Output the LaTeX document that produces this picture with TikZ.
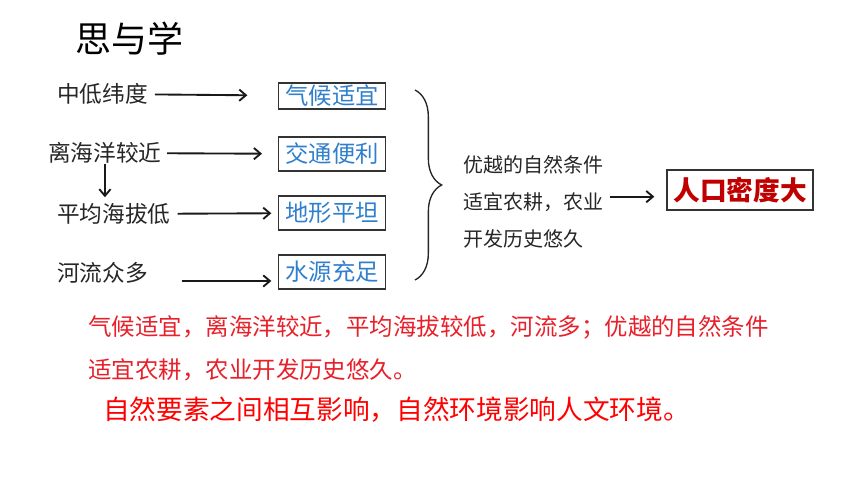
\documentclass[tikz,border=0pt]{standalone}
\usepackage{fontspec}
\newfontfamily\cjk{Noto Sans CJK SC}
\usetikzlibrary{arrows.meta}
\usetikzlibrary{decorations.pathreplacing}
\definecolor{cause-blue}{HTML}{2F7FCC}
\definecolor{result-red}{HTML}{C00000}
\definecolor{note-red}{HTML}{E8202A}
\colorlet{factor}{black!85}
\tikzset{
  factor label/.style={inner sep=0pt, anchor=west, text=factor, font=\cjk\fontsize{17}{20}\selectfont},
  cause box/.style={draw=black!80, line width=1pt, text=cause-blue, inner sep=0pt,
    minimum width=80pt, minimum height=25.5pt, font=\cjk\fontsize{17.5}{20}\selectfont},
  cause path/.style={line width=1.4pt, -{Straight Barb[length=5pt, width=8.5pt]}, black!90},
  note line/.style={inner sep=0pt, anchor=west, font=\cjk\fontsize{#1}{#1}\selectfont},
}

\begin{document}
\begin{tikzpicture}[x=0.75pt, y=-0.75pt]
\useasboundingbox[fill=white] (0,0) rectangle (860,484);
\node[inner sep=0pt, anchor=west, font=\cjk\fontsize{27}{30}\selectfont] at (75,39) (title) {思与学};
% causes and the natural conditions they give
\node[cause box, minimum height=19.5pt] at (332,96) (climate) {气候适宜};
\node[cause box] at (332,154) (traffic) {交通便利};
\node[cause box] at (332,213) (terrain) {地形平坦};
\node[cause box] at (332,272) (water) {水源充足};
\node[factor label] at (57,94) (latitude) {中低纬度}
  edge [cause path, shorten <=5pt, shorten >=23pt] (climate);
\node[factor label] at (48,153) (coast) {离海洋较近}
  edge [cause path, shorten <=4pt, shorten >=12pt] (traffic);
\node[factor label] at (57,214) (altitude) {平均海拔低}
  edge [cause path, shorten <=5pt, shorten >=5pt] (terrain);
\node[factor label] at (57,273) (rivers) {河流众多};
\draw[cause path, shorten >=4.5pt] (coast.south) -- (coast.south |- altitude.north);
\draw[cause path, shorten <=25pt, shorten >=5pt] ([yshift=-6pt]rivers.east) -- ([yshift=-6pt]rivers.east -| water.west);
% brace over the four conditions
\coordinate (brace top) at (415,90);
\coordinate (brace bottom) at (415,280);
\draw[line width=1pt, black!85, decorate, decoration={brace, amplitude=20pt, aspect=0.5}] (brace top) -- (brace bottom);
\node[inner sep=2pt, anchor=west, align=left, text=factor, font=\cjk\fontsize{15}{27.75}\selectfont] at (461,202) (advantage) {优越的自然条件\\适宜农耕，农业\\开发历史悠久};
\node[draw=black!80, line width=1pt, text=result-red, inner sep=0pt, minimum width=109.5pt, minimum height=30pt,
  font=\cjk\bfseries\fontsize{20}{22}\selectfont] at (740,190) (density) {人口密度大};
\draw[cause path, shorten <=2pt, shorten >=9pt] ([yshift=4pt]advantage.east) -- ([yshift=4pt]advantage.east -| density.west);
% conclusion
\node[note line=17.6, text=note-red] at (88,327) (summary) {气候适宜，离海洋较近，平均海拔较低，河流多；优越的自然条件};
\node[note line=17.6, text=note-red] at (88,370) (summary2) {适宜农耕，农业开发历史悠久。};
\node[note line=20, text=red] at (103,410) (lesson) {自然要素之间相互影响，自然环境影响人文环境。};
\end{tikzpicture}
\end{document}
